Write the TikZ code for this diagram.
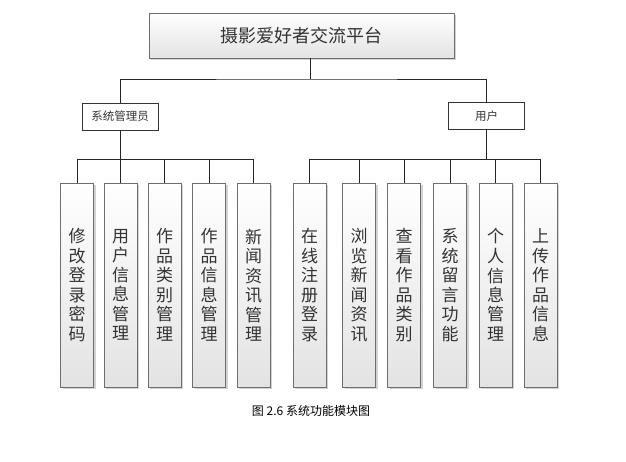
\documentclass[tikz,border=0pt]{standalone}
\usepackage{fontspec}
\setmainfont{Noto Sans CJK SC}
\usepackage{xcolor}
\usepackage{tikz}
\usetikzlibrary{shadows, calc}

\definecolor{edgegray}{HTML}{6E6E6E}
\definecolor{inkgray}{HTML}{333333}

\begin{document}
\begin{tikzpicture}[
    x=1pt, y=-1pt,
    module/.style={rectangle, draw=edgegray, top color=white, bottom color=gray!22, text=inkgray, inner sep=0pt, align=center,
        drop shadow={shadow xshift=2pt, shadow yshift=-2pt, opacity=0.35, fill=gray}},
    rootbox/.style={module, minimum width=305pt, minimum height=45pt, font=\fontsize{18}{20}\selectfont},
    rolebox/.style={rectangle, draw=black!80, fill=white, minimum width=76pt, minimum height=27pt, inner sep=0pt, text=inkgray, font=\fontsize{11.5}{13}\selectfont},
    leafbox/.style={module, minimum width=33pt, minimum height=204pt, font=\fontsize{17}{19.5}\selectfont},
    link/.style={draw=black!85, line width=0.9pt},
    caption/.style={font=\fontsize{12}{14}\selectfont, text=black}
]
\useasboundingbox (0,0) rectangle (626,462);

% Platform
\node[rootbox] (platform) at (301.5,35.5) {摄影爱好者交流平台};

% Roles
\node[rolebox] (admin) at (120,116.5) {系统管理员};
\node[rolebox] (user) at (486.5,116) {用户};

% Administrator modules
\node[leafbox] (a1) at (77,285) {修\\改\\登\\录\\密\\码};
\node[leafbox] (a2) at (120.5,285) {用\\户\\信\\息\\管\\理};
\node[leafbox] (a3) at (164.5,285) {作\\品\\类\\别\\管\\理};
\node[leafbox] (a4) at (209,285) {作\\品\\信\\息\\管\\理};
\node[leafbox] (a5) at (253.5,285) {新\\闻\\资\\讯\\管\\理};

% User modules
\node[leafbox] (u1) at (309.5,285) {在\\线\\注\\册\\登\\录};
\node[leafbox] (u2) at (359,285) {浏\\览\\新\\闻\\资\\讯};
\node[leafbox] (u3) at (404,285) {查\\看\\作\\品\\类\\别};
\node[leafbox] (u4) at (450,285) {系\\统\\留\\言\\功\\能};
\node[leafbox] (u5) at (495.5,285) {个\\人\\信\\息\\管\\理};
\node[leafbox] (u6) at (540.5,285) {上\\传\\作\\品\\信\\息};

% Bus lines
\coordinate (hub) at (310,79);
\coordinate (bus) at (0,159);

\draw[link] (platform.south -| hub) -- (hub);
\draw[link] (admin.north) |- (hub) -| (user.north);

\draw[link] (admin.south) -- (admin.south |- bus);
\draw[link] (a1.north) -- (a1.north |- bus) -- (a5.north |- bus) -- (a5.north);
\draw[link] (a2.north) -- (a2.north |- bus);
\draw[link] (a3.north) -- (a3.north |- bus);
\draw[link] (a4.north) -- (a4.north |- bus);

\draw[link] (user.south) -- (user.south |- bus);
\draw[link] (u1.north) -- (u1.north |- bus) -- (u6.north |- bus) -- (u6.north);
\draw[link] (u2.north) -- (u2.north |- bus);
\draw[link] (u3.north) -- (u3.north |- bus);
\draw[link] (u4.north) -- (u4.north |- bus);
\draw[link] (u5.north) -- (u5.north |- bus);

% Caption
\node[caption] (figcap) at (311,411) {图 2.6 系统功能模块图};
\end{tikzpicture}
\end{document}
